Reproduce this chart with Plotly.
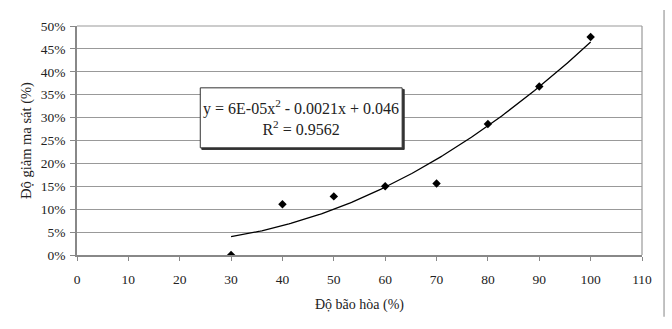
import numpy as np
import plotly.graph_objects as go

saturation = [30, 40, 50, 60, 70, 80, 90, 100]
friction_drop = [0.000, 0.111, 0.128, 0.150, 0.156, 0.286, 0.368, 0.476]
x_ticks = list(range(0, 111, 10))
y_ticks = [i * 0.05 for i in range(11)]
eq_text = "y = 6E-05x<sup>2</sup> - 0.0021x + 0.046<br>R<sup>2</sup> = 0.9562"

coef = np.polyfit(saturation, friction_drop, 2)
xf = np.linspace(min(saturation), max(saturation), 200)
yf = np.polyval(coef, xf)

font = "Liberation Serif, Times New Roman, serif"

fig = go.Figure()
fig.add_trace(go.Scatter(x=xf, y=yf, mode="lines",
                         line=dict(color="black", width=1.3), hoverinfo="skip"))
fig.add_trace(go.Scatter(x=saturation, y=friction_drop, mode="markers",
                         marker=dict(symbol="diamond", color="black", size=6.5)))

fig.update_layout(
    width=672, height=329,
    margin=dict(l=77, r=30, t=26, b=74),
    paper_bgcolor="white", plot_bgcolor="white",
    showlegend=False,
    font=dict(family=font, size=13.5, color="#222"),
    xaxis=dict(range=[0, 110], tickvals=x_ticks, showgrid=False,
               showline=True, linecolor="#888", linewidth=1.5,
               ticks="outside", ticklen=4, tickcolor="#888",
               ticklabelstandoff=7,
               title=dict(text="Độ bão hòa (%)", standoff=13, font=dict(size=14)),
               mirror=False, zeroline=False),
    yaxis=dict(range=[0, 0.5], tickvals=y_ticks, tickformat=".0%",
               showgrid=True, gridcolor="#999", gridwidth=1.2,
               showline=True, linecolor="#888", linewidth=1.5,
               ticks="outside", ticklen=5, tickcolor="#888",
               ticklabelstandoff=2,
               title=dict(text="Độ giảm ma sát (%)", standoff=6, font=dict(size=14.5)),
               zeroline=False),
)

# plot area border (top & right)
fig.add_shape(type="line", xref="paper", yref="paper", x0=0, x1=1, y0=1, y1=1,
              line=dict(color="#999", width=1.2))
fig.add_shape(type="line", xref="paper", yref="paper", x0=1, x1=1, y0=0, y1=1,
              line=dict(color="#999", width=1.2))
# outer chart frame right edge
fig.add_shape(type="line", xref="paper", yref="paper", x0=1.039, x1=1.039, y0=-0.27, y1=1.07,
              line=dict(color="#999", width=1.2))

# equation box shadow + box
fig.add_shape(type="rect", xref="x", yref="y", x0=24.3, x1=63.7, y0=0.2305, y1=0.3615,
              line=dict(color="#333", width=1), fillcolor="#333", layer="above")
fig.add_shape(type="rect", xref="x", yref="y", x0=24.0, x1=63.3, y0=0.234, y1=0.365,
              line=dict(color="#333", width=1), fillcolor="white", layer="above")
fig.add_annotation(x=43.65, y=0.2995, xref="x", yref="y", text=eq_text,
                   showarrow=False, align="center",
                   font=dict(family=font, size=16, color="#222"))

fig.write_html("out.html")
